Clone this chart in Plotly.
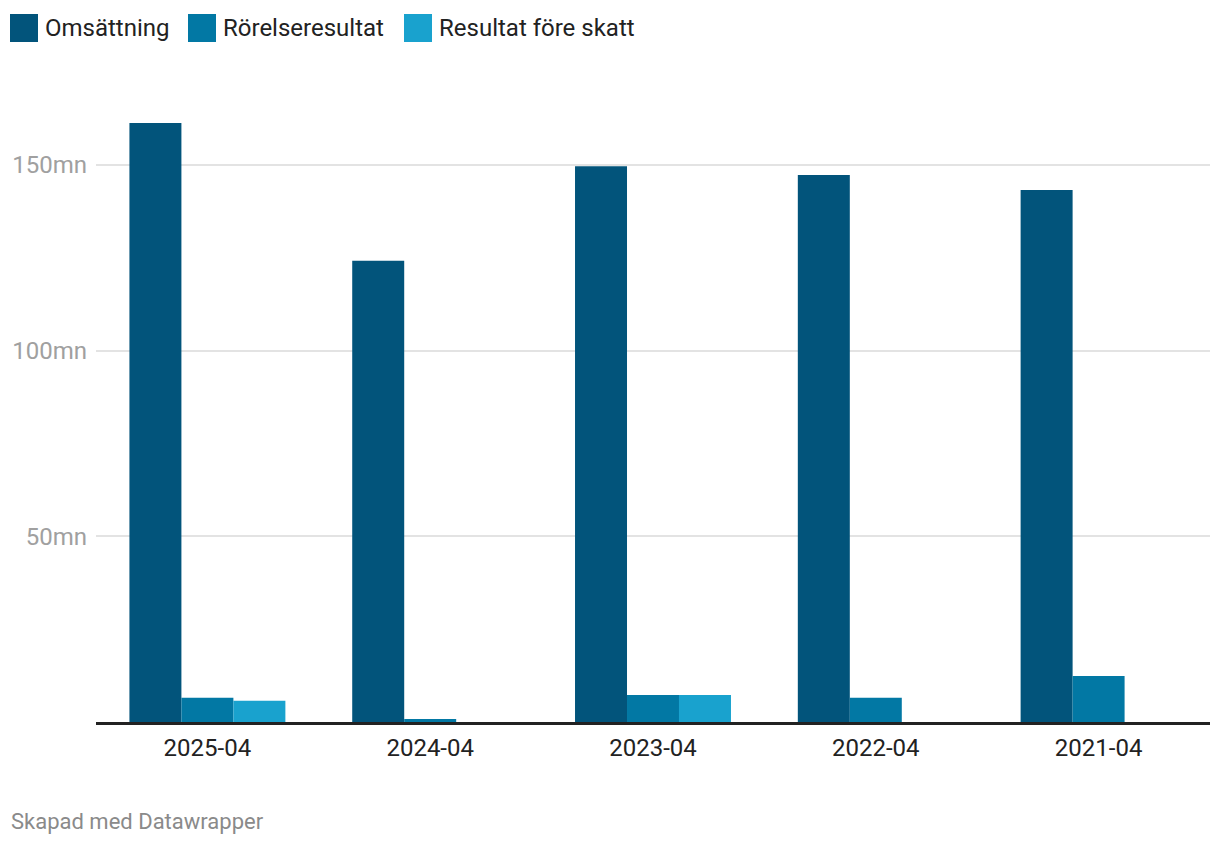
import plotly.graph_objects as go

categories = ["2025-04", "2024-04", "2023-04", "2022-04", "2021-04"]
omsattning = [161.3, 124.2, 149.7, 147.3, 143.3]
rorelseresultat = [6.5, 0.8, 7.3, 6.5, 12.4]
resultat_fore_skatt = [5.7, None, 7.3, None, None]
series_names = ["Omsättning", "Rörelseresultat", "Resultat före skatt"]
colors = ["#02547b", "#0278a4", "#19a2ce"]
y_tickvals = [50, 100, 150]
y_ticktext = ["50mn", "100mn", "150mn"]

OFF = 8  # page body margin
W, H = 1220 - OFF, 844 - OFF
ML, MR, MT, MB = 96 - OFF, 10, 80 - OFF, 844 - 722
PW, PH = W - ML - MR, H - MT - MB

def px(x):
    return (x - OFF - ML) / PW

def py(y):
    return (H - MB - (y - OFF)) / PH

fig = go.Figure()
for name, vals, col in zip(series_names, [omsattning, rorelseresultat, resultat_fore_skatt], colors):
    fig.add_trace(go.Bar(x=categories, y=vals, name=name, marker=dict(color=col, line=dict(width=0)),
                         showlegend=False))

font = "Roboto, 'Open Sans', sans-serif"

# custom legend
legend_sq_x = [10, 188, 404]
shapes = []
annotations = []
for x0, name, col in zip(legend_sq_x, series_names, colors):
    shapes.append(dict(type="rect", xref="paper", yref="paper",
                       x0=px(x0), x1=px(x0 + 28), y0=py(42), y1=py(14),
                       fillcolor=col, line=dict(width=0), layer="above"))
    annotations.append(dict(text=name, xref="paper", yref="paper", x=px(x0 + 34), y=py(28),
                            xanchor="left", yanchor="middle", showarrow=False, borderpad=0,
                            font=dict(family=font, size=24, color="#222222")))

annotations.append(dict(text="Skapad med Datawrapper", xref="paper", yref="paper",
                        x=px(10), y=py(821), xanchor="left", yanchor="middle", showarrow=False,
                        borderpad=0, font=dict(family=font, size=22, color="#8a8a8a")))

fig.update_layout(
    width=W, height=H,
    margin=dict(l=ML, r=MR, t=MT, b=MB, pad=0, autoexpand=False),
    paper_bgcolor="white", plot_bgcolor="white",
    barmode="group", bargap=0.3, bargroupgap=0,
    font=dict(family=font),
    shapes=shapes, annotations=annotations,
    xaxis=dict(type="category", automargin=False, showgrid=False, ticks="",
               tickfont=dict(size=24, color="#222222"),
               showline=True, linecolor="#222222", linewidth=3, zeroline=False,
               ticklabelstandoff=2),
    yaxis=dict(range=[0, PH / 3.713], automargin=False, tickvals=y_tickvals, ticktext=y_ticktext,
               showgrid=True, gridcolor="#e3e3e3", gridwidth=2, zeroline=False,
               showline=False, ticks="", tickfont=dict(size=24, color="#a0a0a0"),
               ticklabelstandoff=8),
)

fig.write_html("out.html")
